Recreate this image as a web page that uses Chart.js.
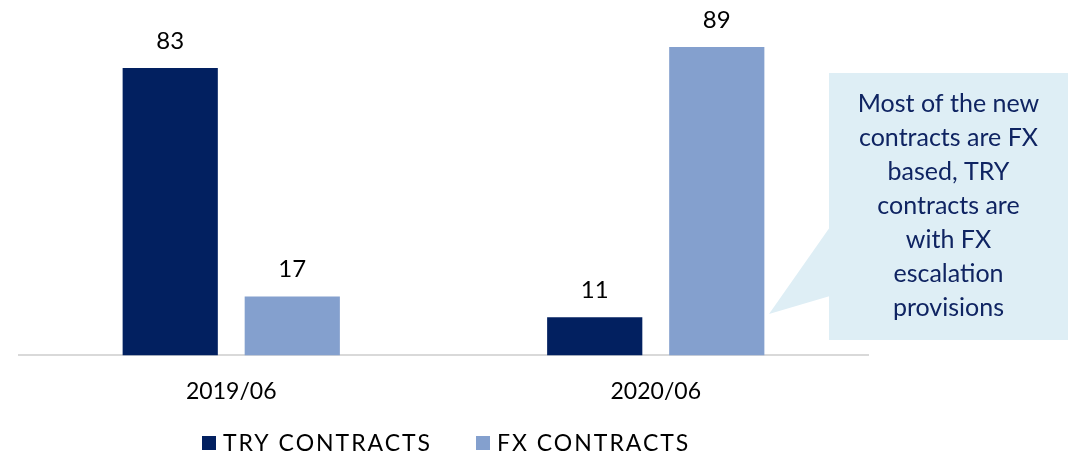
<!DOCTYPE html>
<html>
<head>
<meta charset="utf-8">
<script src="https://cdn.jsdelivr.net/npm/chart.js@4"></script>
<style>
  html, body { margin: 0; padding: 0; background: #fff; }
  #wrap { width: 1076px; height: 456px; position: relative; }
</style>
</head>
<body>
<div id="wrap"><canvas id="contracts-chart" width="1076" height="456"></canvas></div>
<script>
// données
const categories = ['2019/06', '2020/06'];
const tryContracts = [83, 11];
const fxContracts = [17, 89];
const calloutLines = ['Most of the new', 'contracts are FX', 'based, TRY', 'contracts are', 'with FX', 'escalation', 'provisions'];

const FONT = 'Lato, "Open Sans", sans-serif';

// valeurs au-dessus des barres
const barValues = {
  id: 'barValues',
  afterDatasetsDraw(chart) {
    const c = chart.ctx;
    c.save();
    c.font = '24px ' + FONT;
    c.fillStyle = '#000';
    c.textAlign = 'center';
    c.textBaseline = 'middle';
    chart.data.datasets.forEach((ds, i) => {
      chart.getDatasetMeta(i).data.forEach((bar, j) => {
        c.fillText(String(ds.data[j]), bar.x, bar.y - 27);
      });
    });
    c.restore();
  }
};

// bulle de commentaire
const callout = {
  id: 'callout',
  afterDraw(chart) {
    const c = chart.ctx;
    const left = 829, top = 73, right = 1068, bottom = 340;
    c.save();
    c.fillStyle = '#DEEEF5';
    c.fillRect(left, top, right - left, bottom - top);
    c.beginPath();
    c.moveTo(left + 1, 227);
    c.lineTo(769, 314);
    c.lineTo(left + 1, 296);
    c.closePath();
    c.fill();
    c.font = '25px ' + FONT;
    c.fillStyle = '#0F2462';
    c.textAlign = 'center';
    c.textBaseline = 'middle';
    calloutLines.forEach((line, k) => {
      c.fillText(line, (left + right) / 2, 104 + k * 34);
    });
    c.restore();
  }
};

// légende dessinée à la main (espacement comme l'original)
const legendItems = {
  id: 'legendItems',
  afterDraw(chart) {
    const c = chart.ctx;
    const pos = [[202, 223], [476, 497]];
    c.save();
    c.font = '23px ' + FONT;
    c.letterSpacing = '2px';
    c.textBaseline = 'middle';
    chart.data.datasets.forEach((ds, i) => {
      c.fillStyle = ds.backgroundColor;
      c.fillRect(pos[i][0], 436, 14, 14);
      c.fillStyle = '#000';
      c.fillText(ds.label, pos[i][1], 444);
    });
    c.restore();
  }
};

new Chart(document.getElementById('contracts-chart').getContext('2d'), {
  type: 'bar',
  data: {
    labels: categories,
    datasets: [
      { label: 'TRY CONTRACTS', data: tryContracts, backgroundColor: '#022060' },
      { label: 'FX CONTRACTS', data: fxContracts, backgroundColor: '#84A0CE' }
    ]
  },
  options: {
    responsive: false,
    animation: false,
    categoryPercentage: 0.575,
    barPercentage: 0.78,
    layout: { padding: { left: 19, right: 208, top: 9, bottom: 37 } },
    scales: {
      x: {
        grid: { display: false },
        border: { display: true, color: '#D9D9D9', width: 2 },
        ticks: { color: '#000', font: { family: FONT, size: 23 }, padding: 14 }
      },
      y: {
        display: false,
        min: 0,
        max: 100
      }
    },
    plugins: {
      legend: { display: false },
      tooltip: { enabled: false }
    }
  },
  plugins: [barValues, callout, legendItems]
});
</script>
</body>
</html>
